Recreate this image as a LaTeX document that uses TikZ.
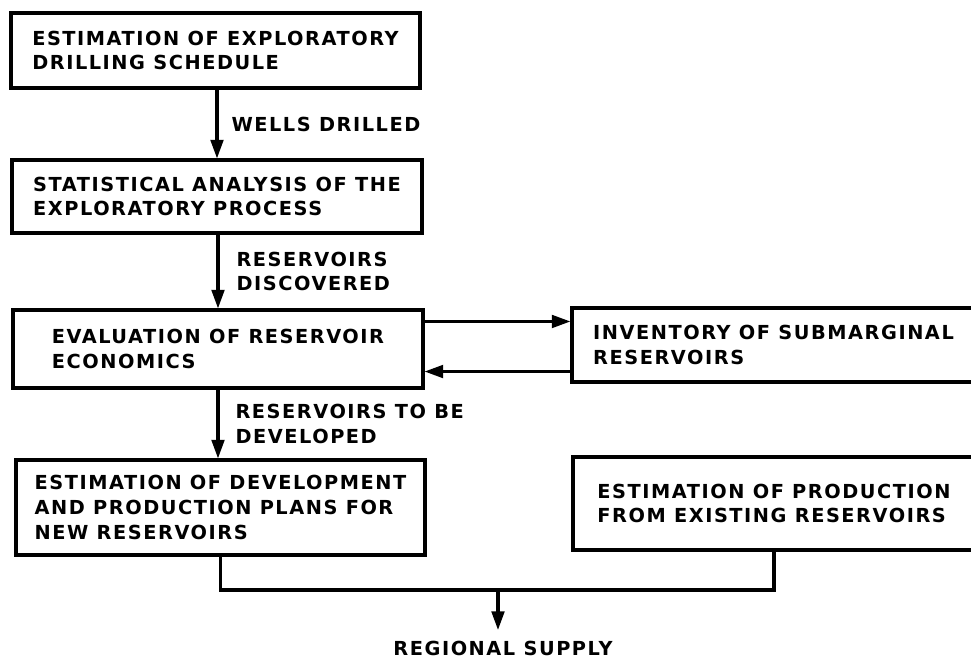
\documentclass[tikz,border=0pt]{standalone}
\usepackage{fontspec}
\newfontfamily\lettering{DejaVu Sans}[LetterSpace=8]
\usetikzlibrary{
    arrows.meta
}

\begin{document}
\begin{tikzpicture}[x=0.03cm,y=-0.03cm,>={Triangle[length=0.56cm,width=0.38cm]},line width=2.6pt]
    \tikzstyle{block}=[draw, rectangle, align=left, font=\lettering\bfseries\fontsize{16.5}{21}\selectfont]
    \tikzstyle{note}=[right, inner xsep=0, align=left, font=\lettering\bfseries\fontsize{16.5}{21}\selectfont]
    \useasboundingbox (0,0) rectangle (971,660);

    \node [block, minimum width=12.27cm, minimum height=2.25cm] (sched) at (215.5, 50.5) {ESTIMATION OF EXPLORATORY\\ DRILLING SCHEDULE};
    \node [block, minimum width=12.3cm, minimum height=2.19cm] (stat) at (217, 196.5) {STATISTICAL ANALYSIS OF THE\\ EXPLORATORY PROCESS};
    \node [block, minimum width=12.3cm, minimum height=2.34cm] (econ) at (218, 349) {EVALUATION OF RESERVOIR\\ ECONOMICS};
    \node [block, minimum width=12.09cm, minimum height=2.22cm] (inv) at (773.5, 345) {INVENTORY OF SUBMARGINAL\\ RESERVOIRS};
    \node [block, minimum width=12.27cm, minimum height=2.85cm] (newres) at (220.5, 507.5) {ESTIMATION OF DEVELOPMENT\\ AND PRODUCTION PLANS FOR\\ NEW RESERVOIRS};
    \node [block, minimum width=12.06cm, minimum height=2.79cm] (oldres) at (774, 503.5) {ESTIMATION OF PRODUCTION\\ FROM EXISTING RESERVOIRS};

    % main chain
    \draw [->] (sched.south -| stat.north) -- node[note, xshift=0.39cm] (wells) {WELLS DRILLED} (stat.north);
    \draw [->] (stat.south -| econ.north) -- node[note, xshift=0.51cm] (found) {RESERVOIRS\\ DISCOVERED} (econ.north);
    \draw [->] (econ.south) -- node[note, xshift=0.48cm] (todev) {RESERVOIRS TO BE\\ DEVELOPED} (econ.south |- newres.north);

    % to and from the inventory
    \coordinate (fwd) at ([yshift=-0.39cm]econ.north east);
    \coordinate (back) at ([yshift=0.54cm]econ.south east);
    \draw [->] (fwd) -- (fwd -| inv.west);
    \draw [->] (back -| inv.west) -- (back);

    % both supplies join
    \node [note, anchor=center, inner sep=0] (supply) at (503, 648) {REGIONAL SUPPLY};
    \coordinate (join) at (498, 590);
    \draw (newres.south) |- (join) -| (oldres.south);
    \draw [->] (join) -- (join |- 0,630);
\end{tikzpicture}
\end{document}
